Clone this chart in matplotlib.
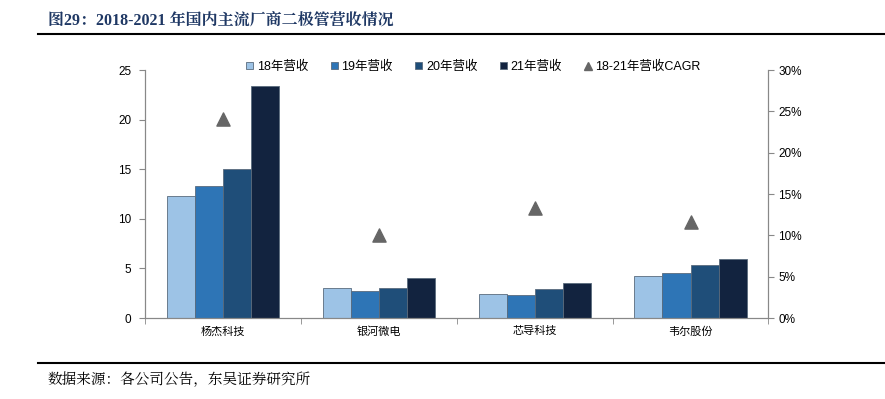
import numpy as np
import matplotlib
matplotlib.use("Agg")
import matplotlib.pyplot as plt
from matplotlib.lines import Line2D

plt.rcParams['font.family'] = ['Liberation Sans', 'Noto Sans CJK SC', 'DejaVu Sans']

# 数据
companies = ["杨杰科技", "银河微电", "芯导科技", "韦尔股份"]
rev_18 = [12.3, 3.0, 2.4, 4.2]
rev_19 = [13.3, 2.7, 2.3, 4.5]
rev_20 = [15.0, 3.0, 2.9, 5.3]
rev_21 = [23.4, 4.0, 3.5, 5.9]
cagr = [24.1, 10.1, 13.3, 11.6]  # %

series = [("18年营收", rev_18, "#9DC3E6"),
          ("19年营收", rev_19, "#2E75B6"),
          ("20年营收", rev_20, "#1F4E79"),
          ("21年营收", rev_21, "#12233F")]

fig = plt.figure(figsize=(8.85, 3.99), dpi=100)
ax = fig.add_axes([0.1638, 0.203, 0.7045, 0.6215])
ax2 = ax.twinx()

x = np.arange(len(companies))
w = 0.18
handles = []
for i, (lab, vals, col) in enumerate(series):
    b = ax.bar(x + (i - 1.5) * w, vals, w, color=col, edgecolor="#5a6b7d",
               linewidth=0.6, label=lab, zorder=2)
    handles.append(b)

ax2.scatter(x, cagr, marker="^", s=90, color="#666666", zorder=5)
tri = Line2D([], [], marker="^", color="#666666", linestyle="none", markersize=6)

ax.set_xlim(-0.5, len(companies) - 0.5)
ax.set_ylim(0, 25)
ax.set_yticks(range(0, 26, 5))
ax2.set_ylim(0, 30)
ax2.set_yticks(range(0, 31, 5))
ax2.set_yticklabels([f"{v}%" for v in range(0, 31, 5)])

ax.set_xticks(x)
ax.set_xticklabels(companies, fontsize=8, family=['Noto Sans CJK SC'])
ax.set_xticks(np.arange(-0.5, len(companies)), minor=True)
ax.tick_params(axis="x", which="major", length=0, pad=6)
ax.tick_params(axis="x", which="minor", length=4, direction="out", color="#888888")

for a in (ax, ax2):
    a.spines["top"].set_visible(False)
    for s in ("left", "right", "bottom"):
        a.spines[s].set_color("#888888")
        a.spines[s].set_linewidth(0.8)
ax.tick_params(axis="y", labelsize=8.5, length=4, color="#888888", pad=6)
ax2.tick_params(axis="y", labelsize=8.5, length=4, color="#888888", pad=3)

fig.legend(handles + [tri], [s[0] for s in series] + ["18-21年营收CAGR"],
           ncol=5, frameon=False, fontsize=9, loc="center",
           bbox_to_anchor=(0.535, 0.833), handlelength=0.55, handleheight=0.55,
           handletextpad=0.3, columnspacing=1.8)

# 标题与来源
fig.text(0.054, 0.948, "图29：2018-2021 年国内主流厂商二极管营收情况", fontsize=11.5,
         fontweight="bold", color="#1F3864", va="center",
         family=['Liberation Serif', 'Noto Serif CJK SC', 'Noto Sans CJK SC'])
fig.add_artist(Line2D([0.043, 1.0], [0.915, 0.915], color="black", linewidth=1.5))
fig.add_artist(Line2D([0.043, 1.0], [0.09, 0.09], color="black", linewidth=1.5))
fig.text(0.054, 0.047, "数据来源：各公司公告，东吴证券研究所", fontsize=10.5,
         va="center", family=['Noto Serif CJK SC', 'Noto Sans CJK SC'])

fig.savefig("out.png", dpi=100)
